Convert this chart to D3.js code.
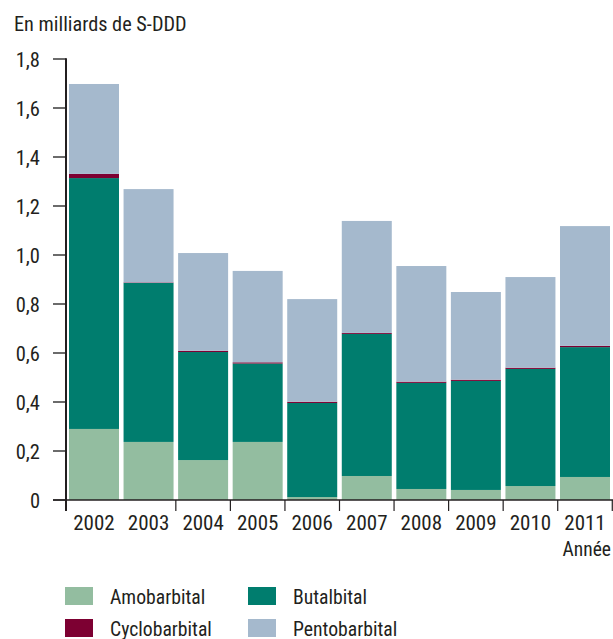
<!DOCTYPE html>
<html><head><meta charset="utf-8">
<script src="https://cdn.jsdelivr.net/npm/d3@7"></script>
<style>
body{margin:0;background:#fff;}
text{font-family:"Liberation Sans Narrow","Roboto Condensed","Liberation Sans",sans-serif;fill:#231f20;}
</style></head>
<body><svg id="c" width="613" height="639"></svg>
<script>
const years = ["2002","2003","2004","2005","2006","2007","2008","2009","2010","2011"];
const amobarbital   = [0.290,0.237,0.163,0.237,0.012,0.098,0.045,0.041,0.057,0.094];
const butalbital    = [1.024,0.649,0.441,0.320,0.384,0.580,0.433,0.445,0.478,0.530];
const cyclobarbital = [0.017,0.002,0.005,0.005,0.005,0.004,0.005,0.005,0.005,0.005];
const pentobarbital = [0.367,0.381,0.399,0.373,0.419,0.457,0.472,0.358,0.370,0.489];
const seriesNames = ["Amobarbital","Butalbital","Cyclobarbital","Pentobarbital"];
const colors = ["#93bda0","#007d6e","#7d0032","#a5b9cd"];
const yTicks = [0,0.2,0.4,0.6,0.8,1.0,1.2,1.4,1.6,1.8];

const svg = d3.select("#c");
const x = d3.scaleBand().domain(years).range([66,613]).paddingInner(0.0836).paddingOuter(0.055);
const y = d3.scaleLinear().domain([0,1.8]).range([500,59]);

const rows = years.map((yr,i)=>({year:yr,Amobarbital:amobarbital[i],Butalbital:butalbital[i],Cyclobarbital:cyclobarbital[i],Pentobarbital:pentobarbital[i]}));
const stack = d3.stack().keys(seriesNames)(rows);

stack.forEach((s,si)=>{
  svg.append("g").selectAll("rect").data(s).join("rect")
    .attr("x",d=>x(d.data.year)).attr("width",x.bandwidth())
    .attr("y",d=>y(d[1])).attr("height",d=>Math.max(0,y(d[0])-y(d[1])))
    .attr("fill",colors[si]);
});

// y axis
const fmt = v => v===0 ? "0" : d3.format(".1f")(v).replace(".",",");
const ya = svg.append("g");
ya.selectAll("line.t").data(yTicks).join("line").attr("class","t")
  .attr("x1",53).attr("x2",66).attr("y1",d=>y(d)).attr("y2",d=>y(d))
  .attr("stroke","#3a3a3a").attr("stroke-width",1.5);
ya.selectAll("text").data(yTicks).join("text")
  .attr("x",40).attr("y",d=>y(d)+7.5).attr("text-anchor","end")
  .style("font-size","20.5px").text(fmt);
svg.append("line").attr("x1",66).attr("x2",66).attr("y1",y(1.8)-0.75).attr("y2",511)
  .attr("stroke","#231f20").attr("stroke-width",2);

// x axis
svg.append("line").attr("x1",53).attr("x2",613).attr("y1",y(0)).attr("y2",y(0))
  .attr("stroke","#231f20").attr("stroke-width",1.5);
const gap = x.step()-x.bandwidth();
const bounds = years.slice(2).map(d=>x(d)-gap/2).concat([x(years[years.length-1])+x.bandwidth()+gap/2]);
svg.append("g").selectAll("line").data(bounds).join("line")
  .attr("x1",d=>d).attr("x2",d=>d).attr("y1",y(0)).attr("y2",511)
  .attr("stroke","#231f20").attr("stroke-width",1.2);
svg.append("g").selectAll("text").data(years).join("text")
  .attr("x",d=>x(d)+x.bandwidth()/2).attr("y",530).attr("text-anchor","middle")
  .style("font-size","21px").text(d=>d);
svg.append("text").attr("x",611).attr("y",556).attr("text-anchor","end")
  .style("font-size","19.5px").text("Année");

// title
svg.append("text").attr("x",14).attr("y",31).style("font-size","20.3px").text("En milliards de S-DDD");

// legend
const legPos = [[65,587],[248,587],[65,619],[248,619]];
seriesNames.forEach((n,i)=>{
  const [lx,ly]=legPos[i];
  svg.append("rect").attr("x",lx).attr("y",ly).attr("width",28).attr("height",18).attr("fill",colors[i]);
  svg.append("text").attr("x",lx+45).attr("y",ly+17).style("font-size","19.7px").text(n);
});
</script></body></html>
